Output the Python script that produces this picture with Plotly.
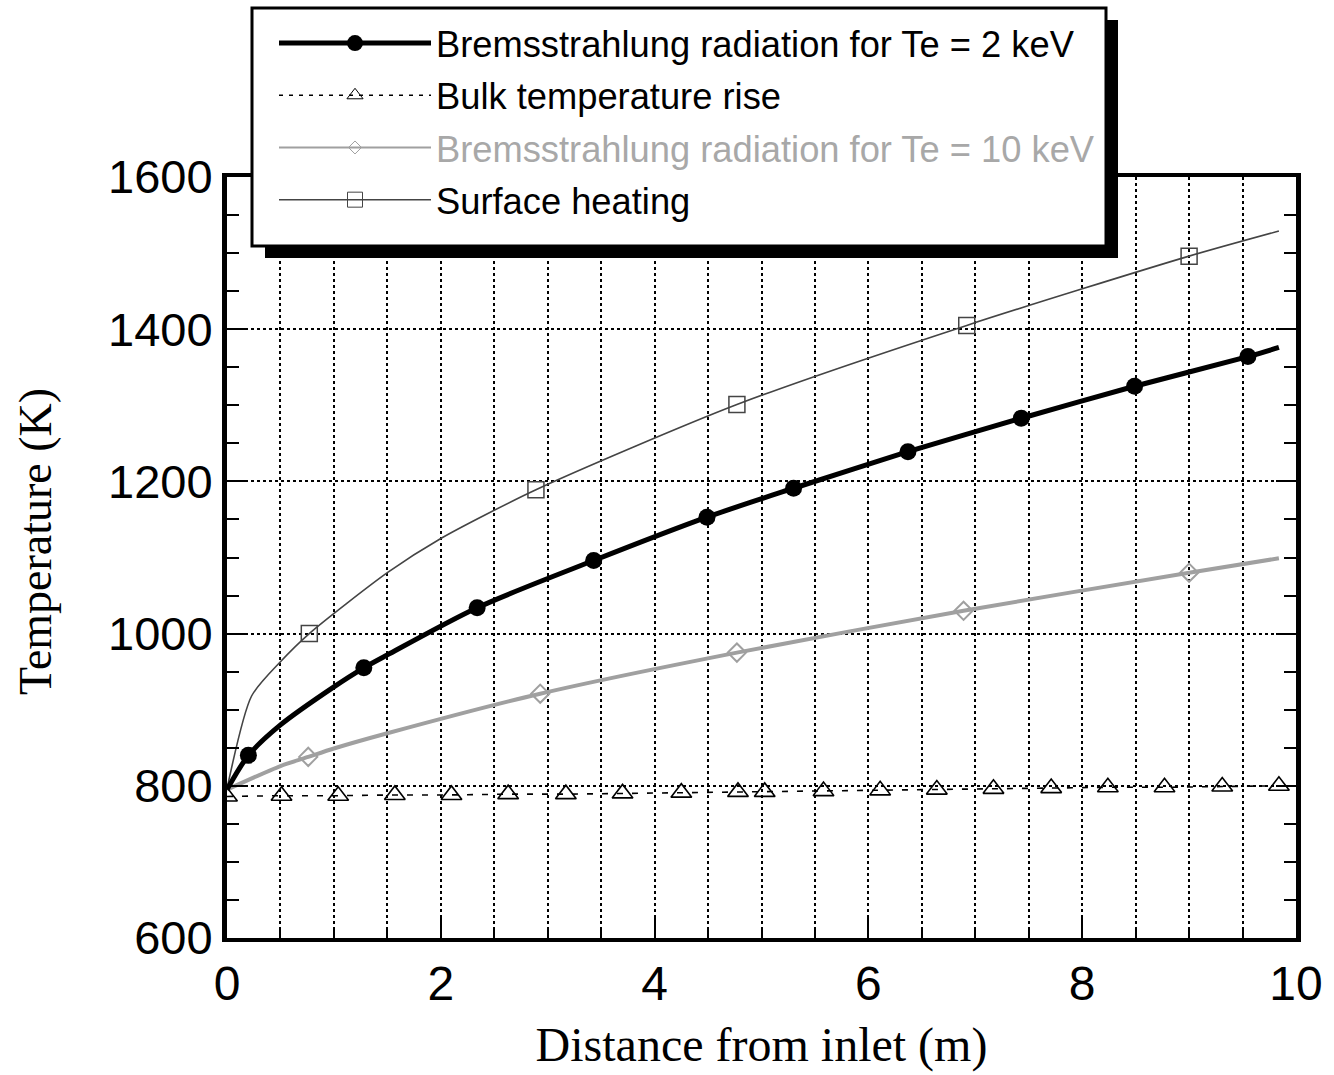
import plotly.graph_objects as go

# ---------------- data ----------------
# Bremsstrahlung radiation, Te = 2 keV
x_2kev = [0, 0.2, 0.5, 1.0, 1.28, 1.5, 2.34, 3.43, 4.49, 5.30, 6.37, 7.43, 8.49, 9.55, 9.84]
y_2kev = [795, 840, 880, 930, 955, 972, 1034, 1096, 1153, 1191, 1239, 1283, 1325, 1364, 1376]
xm_2kev = [0.2, 1.28, 2.34, 3.43, 4.49, 5.30, 6.37, 7.43, 8.49, 9.55]
ym_2kev = [840, 955, 1034, 1096, 1153, 1191, 1239, 1283, 1325, 1364]

# Bulk temperature rise
x_bulk = [0, 0.51, 1.04, 1.57, 2.10, 2.63, 3.17, 3.70, 4.25, 4.78, 5.03, 5.58,
          6.11, 6.64, 7.17, 7.71, 8.24, 8.77, 9.31, 9.84]
y_bulk = [786, 787, 787, 788, 788, 789, 789, 790, 791, 792, 792, 793,
          794, 795, 796, 797, 798, 798, 799, 800]

# Bremsstrahlung radiation, Te = 10 keV
x_10kev = [0, 0.5, 0.76, 1.0, 1.5, 2.93, 4.77, 6.89, 9.0, 9.84]
y_10kev = [795, 826, 838, 849, 869, 921, 975, 1030, 1080, 1099]
xm_10kev = [0.76, 2.93, 4.77, 6.89, 9.0]
ym_10kev = [838, 921, 975, 1030, 1080]

# Surface heating
x_surf = [0, 0.23, 0.5, 0.77, 1.5, 2.0, 2.89, 4.77, 6.92, 9.0, 9.84]
y_surf = [796, 918, 963, 1000, 1080, 1125, 1189, 1301, 1405, 1496, 1529]
xm_surf = [0.77, 2.89, 4.77, 6.92, 9.0]
ym_surf = [1000, 1189, 1301, 1405, 1496]

names = ["Bremsstrahlung radiation for Te = 2 keV",
         "Bulk temperature rise",
         "Bremsstrahlung radiation for Te = 10 keV",
         "Surface heating"]

x_ticks = [0, 2, 4, 6, 8, 10]
y_ticks = [600, 800, 1000, 1200, 1400, 1600]

x_title = "Distance from inlet (m)"
y_title = "Temperature (K)"

# ---------------- styles ----------------
W, H = 1334, 1075
L, R, T, B = 227, 38, 177, 137
PW, PH = W - L - R, H - T - B
GRAY = "#a0a0a0"
SURF = "#444444"


def px(xp):
    return (xp - L) / PW


def py(yp):
    return (H - B - yp) / PH


fig = go.Figure()

# curves (no legend)
fig.add_trace(go.Scatter(x=x_surf, y=y_surf, mode="lines", showlegend=False,
                         line=dict(color=SURF, width=1.6, shape="spline", smoothing=0.7),
                         hoverinfo="skip"))
fig.add_trace(go.Scatter(x=xm_surf, y=ym_surf, mode="markers", showlegend=False,
                         marker=dict(symbol="square-open", size=16, color=SURF,
                                     line=dict(width=1.5, color=SURF))))
fig.add_trace(go.Scatter(x=x_10kev, y=y_10kev, mode="lines", showlegend=False,
                         line=dict(color=GRAY, width=4, shape="spline", smoothing=0.7)))
fig.add_trace(go.Scatter(x=xm_10kev, y=ym_10kev, mode="markers", showlegend=False,
                         marker=dict(symbol="diamond-open", size=14, color=GRAY,
                                     line=dict(width=2, color=GRAY))))
fig.add_trace(go.Scatter(x=x_bulk, y=y_bulk, mode="lines+markers", showlegend=False,
                         line=dict(color="black", width=1.6, dash="6px,9px"),
                         marker=dict(symbol="triangle-up-open", size=18, color="black",
                                     line=dict(width=1.6, color="black"))))
fig.add_trace(go.Scatter(x=x_2kev, y=y_2kev, mode="lines", showlegend=False,
                         line=dict(color="black", width=5, shape="spline", smoothing=0.8)))
fig.add_trace(go.Scatter(x=xm_2kev, y=ym_2kev, mode="markers", showlegend=False,
                         marker=dict(symbol="circle", size=17, color="black")))

# legend entries
fig.add_trace(go.Scatter(x=[None], y=[None], mode="lines+markers", name=names[0],
                         legendgroup="a", line=dict(color="black", width=5),
                         marker=dict(symbol="circle", size=16, color="black")))
fig.add_trace(go.Scatter(x=[None], y=[None], mode="lines+markers", name=names[1],
                         legendgroup="b", line=dict(color="black", width=1.5, dash="4px,6px"),
                         marker=dict(symbol="triangle-up-open", size=14, color="black")))
fig.add_trace(go.Scatter(x=[None], y=[None], mode="lines+markers",
                         name='<span style="color:#a8a8a8">' + names[2] + '</span>',
                         legendgroup="c", line=dict(color=GRAY, width=2),
                         marker=dict(symbol="diamond-open", size=10, color=GRAY)))
fig.add_trace(go.Scatter(x=[None], y=[None], mode="lines+markers", name=names[3],
                         legendgroup="d", line=dict(color=SURF, width=1.5),
                         marker=dict(symbol="square-open", size=15, color=SURF)))

# legend frame with drop shadow
shapes = [
    dict(type="rect", xref="paper", yref="paper", layer="above",
         x0=px(265), x1=px(1118), y0=py(258), y1=py(20),
         fillcolor="black", line=dict(width=0)),
    dict(type="rect", xref="paper", yref="paper", layer="above",
         x0=px(252), x1=px(1106), y0=py(246), y1=py(8),
         fillcolor="white", line=dict(color="black", width=3)),
]

annotations = [
    dict(text=y_title, textangle=-90, xref="paper", yref="paper",
         x=px(35), y=py(542), xanchor="center", yanchor="middle", showarrow=False,
         font=dict(family="Liberation Serif", size=46, color="black")),
]

grid = dict(gridcolor="black", griddash="dot", gridwidth=2)

fig.update_layout(
    width=W, height=H,
    margin=dict(l=L, r=R, t=T, b=B, pad=0),
    paper_bgcolor="white", plot_bgcolor="white",
    shapes=shapes, annotations=annotations,
    legend=dict(x=px(274), y=py(13), xanchor="left", yanchor="top",
                bgcolor="rgba(0,0,0,0)", borderwidth=0,
                font=dict(family="Arial", size=36.3, color="black"),
                itemwidth=152, tracegroupgap=2, traceorder="grouped"),
    xaxis=dict(range=[0, 10], tickvals=x_ticks, ticks="inside", ticklen=20, tickwidth=2,
               tickcolor="black", showline=True, linewidth=4, linecolor="black", mirror=True,
               zeroline=False, showgrid=True, **grid,
               minor=dict(dtick=0.5, ticks="inside", ticklen=10, tickwidth=2, tickcolor="black",
                          showgrid=True, **grid),
               tickfont=dict(family="Arial", size=48, color="black"),
               title=dict(text=x_title, standoff=20,
                          font=dict(family="Liberation Serif", size=48, color="black"))),
    yaxis=dict(range=[600, 1600], tickvals=y_ticks, ticks="inside", ticklen=20, tickwidth=2,
               tickcolor="black", showline=True, linewidth=5, linecolor="black", mirror="ticks",
               zeroline=False, showgrid=True, **grid, ticklabelstandoff=0,
               minor=dict(dtick=50, ticks="inside", ticklen=12, tickwidth=2, tickcolor="black",
                          showgrid=False),
               tickfont=dict(family="Arial", size=47, color="black")),
)

fig.write_html("out.html")
